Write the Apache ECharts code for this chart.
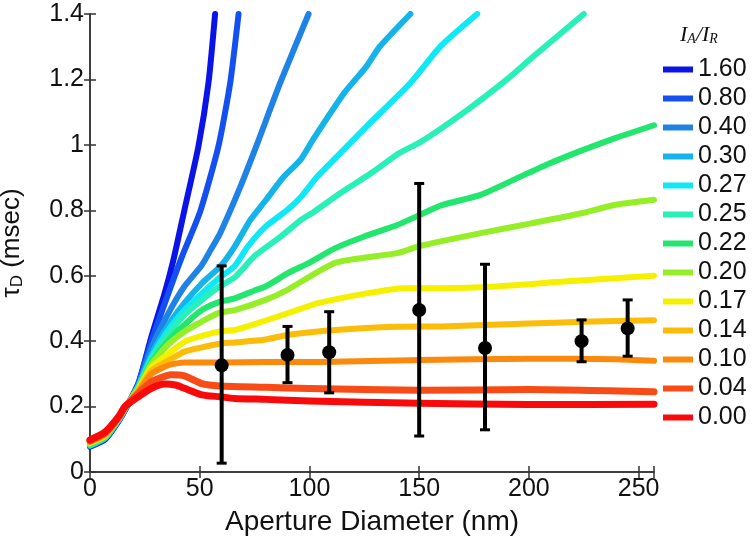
<!DOCTYPE html>
<html>
<head>
<meta charset="utf-8">
<script src="https://cdn.jsdelivr.net/npm/echarts@6/dist/echarts.min.js"></script>
<style>
html,body{margin:0;padding:0;background:#fff;}
#chart{width:753px;height:539px;}
</style>
</head>
<body>
<div id="chart"></div>
<script>
// ---- data ----
const ratioLabels = ['1.60','0.80','0.40','0.30','0.27','0.25','0.22','0.20','0.17','0.14','0.10','0.04','0.00'];
const xTicks = [0, 50, 100, 150, 200, 250];
const yTicks = [0, 0.2, 0.4, 0.6, 0.8, 1, 1.2, 1.4];

const s160 = [[0,0.077],[7,0.10],[13,0.155],[16,0.19],[22,0.27],[28,0.414],[34,0.546],[38,0.648],[43,0.80],[49.4,0.995],[54,1.19],[57,1.4]];
const s080 = [[0,0.079],[7,0.102],[13,0.157],[16,0.19],[22,0.27],[28,0.40],[35.7,0.546],[42,0.66],[50.2,0.796],[58.5,0.995],[63.9,1.19],[67.7,1.4]];
const s040 = [[0,0.08],[7,0.104],[13,0.158],[16,0.192],[22,0.265],[28,0.38],[35.7,0.485],[43,0.567],[51,0.633],[55,0.679],[59.3,0.73],[68.4,0.87],[76,1.0],[86.7,1.19],[99.6,1.4]];
const s030 = [[0,0.081],[7,0.105],[13,0.159],[16,0.193],[22,0.262],[28,0.36],[35.7,0.449],[43,0.516],[51,0.577],[59.3,0.628],[66,0.69],[73,0.77],[80,0.83],[88,0.90],[96,0.955],[102,1.02],[116,1.16],[126,1.24],[132,1.3],[146,1.4]];
const s027 = [[0,0.082],[7,0.106],[13,0.16],[16,0.194],[22,0.26],[28,0.35],[35.7,0.434],[43,0.495],[51,0.546],[59.3,0.595],[66,0.63],[72,0.69],[80,0.75],[89.7,0.80],[96,0.84],[103.6,0.903],[112.5,0.964],[126,1.056],[146,1.189],[159.7,1.301],[176.4,1.4]];
const s025 = [[0,0.083],[7,0.107],[13,0.161],[16,0.195],[22,0.258],[28,0.345],[36,0.424],[43,0.48],[51,0.526],[59,0.567],[66,0.595],[75,0.66],[87,0.72],[96,0.77],[102,0.795],[114,0.852],[128,0.913],[141,0.975],[151,1.01],[172,1.107],[190,1.2],[202,1.27],[225,1.4]];
const s022 = [[0,0.085],[7,0.109],[13,0.162],[16,0.196],[22,0.256],[28,0.335],[36,0.404],[43,0.45],[51,0.495],[59,0.52],[66,0.531],[75,0.555],[80,0.567],[90,0.607],[100,0.64],[112,0.685],[125,0.72],[140,0.755],[150,0.785],[160,0.815],[178,0.847],[193,0.893],[208,0.939],[223,0.98],[239,1.02],[257,1.06]];
const s020 = [[0,0.087],[7,0.11],[13,0.163],[16,0.197],[22,0.255],[28,0.33],[36,0.392],[43,0.429],[51,0.46],[59,0.487],[66,0.495],[80,0.526],[90,0.557],[112,0.64],[140,0.669],[150,0.69],[178,0.73],[201,0.76],[224,0.791],[239,0.816],[257,0.832]];
const s017 = [[0,0.089],[7,0.112],[13,0.164],[16,0.198],[22,0.252],[28,0.32],[36,0.363],[43,0.398],[51,0.416],[59,0.43],[66,0.434],[75,0.452],[90,0.485],[104,0.516],[126,0.546],[143,0.562],[160,0.562],[185,0.567],[216,0.582],[257,0.6]];
const s014 = [[0,0.091],[7,0.114],[13,0.165],[16,0.199],[22,0.25],[28,0.31],[36,0.342],[43,0.368],[51,0.381],[59,0.392],[66,0.396],[80,0.405],[90,0.419],[112,0.434],[140,0.444],[160,0.445],[200,0.454],[224,0.459],[257,0.464]];
const s010 = [[0,0.093],[7,0.117],[13,0.166],[16,0.2],[22,0.245],[28,0.30],[36,0.327],[43,0.335],[60,0.335],[80,0.336],[100,0.336],[150,0.342],[200,0.346],[240,0.345],[257,0.34]];
const s004 = [[0,0.095],[7,0.12],[13,0.167],[16,0.2],[22,0.24],[28,0.276],[37,0.297],[43,0.294],[51,0.27],[59,0.263],[80,0.259],[100,0.255],[150,0.25],[200,0.252],[257,0.245]];
const s000 = [[0,0.098],[7,0.123],[13,0.169],[16,0.2],[22,0.23],[28,0.256],[34,0.269],[39,0.266],[43,0.256],[51,0.236],[59,0.23],[66,0.225],[80,0.222],[100,0.217],[150,0.21],[200,0.206],[257,0.207]];

const errX    = [60, 90, 109, 150, 180, 224, 245];
const errMean = [0.326, 0.358, 0.366, 0.495, 0.379, 0.40, 0.439];
const errLow  = [0.027, 0.273, 0.242, 0.110, 0.129, 0.337, 0.354];
const errHigh = [0.630, 0.445, 0.490, 0.882, 0.635, 0.465, 0.526];

// ---- styling ----
const curveData = [s160, s080, s040, s030, s027, s025, s022, s020, s017, s014, s010, s004, s000];
const colors = ['#0a14e6','#1450f0','#1e82e6','#14b4ea','#10e8f5','#28f0b8','#22e66e','#96ee28','#f5f000','#fcbc0a','#fb8a0c','#f84c18','#f80a0a'];
const FONT = '"Liberation Sans", Arial, Helvetica, sans-serif';

const series = curveData.map((d, i) => ({
  name: ratioLabels[i],
  type: 'line',
  data: d,
  showSymbol: false,
  smooth: 0.2,
  clip: true,
  xAxisIndex: 0, yAxisIndex: 0,
  lineStyle: { width: i >= 11 ? 7 : 6, color: colors[i], cap: 'round', join: 'round' },
  itemStyle: { color: colors[i] },
  z: 2 + i
}));

const errData = errX.map((x, i) => [x, errMean[i], errLow[i], errHigh[i]]);
series.push({
  type: 'custom',
  name: 'err',
  xAxisIndex: 0, yAxisIndex: 0,
  data: errData,
  z: 30,
  renderItem: function (params, api) {
    const x = api.value(0);
    const pm = api.coord([x, api.value(1)]);
    const pl = api.coord([x, api.value(2)]);
    const ph = api.coord([x, api.value(3)]);
    const cw = 5;
    return {
      type: 'group',
      children: [
        { type: 'line', shape: { x1: pl[0], y1: pl[1], x2: ph[0], y2: ph[1] }, style: { stroke: '#000', lineWidth: 4 } },
        { type: 'line', shape: { x1: pl[0]-cw, y1: pl[1], x2: pl[0]+cw, y2: pl[1] }, style: { stroke: '#000', lineWidth: 3 } },
        { type: 'line', shape: { x1: ph[0]-cw, y1: ph[1], x2: ph[0]+cw, y2: ph[1] }, style: { stroke: '#000', lineWidth: 3 } },
        { type: 'circle', shape: { cx: pm[0], cy: pm[1], r: 7 }, style: { fill: '#000' } }
      ]
    };
  }
});

const axisLineStyle = { color: '#333', width: 1.5 };
const chart = echarts.init(document.getElementById('chart'), null, { renderer: 'canvas' });
chart.setOption({
  animation: false,
  backgroundColor: '#fff',
  textStyle: { fontFamily: FONT },
  grid: { left: 90, top: 14, right: 99, bottom: 67, containLabel: false, outerBoundsMode: 'none' },
  legend: {
    data: ratioLabels,
    orient: 'vertical',
    left: 663, top: 57,
    padding: 0,
    itemWidth: 30, itemHeight: 6,
    itemGap: 4,
    icon: 'rect',
    textStyle: { fontSize: 25, lineHeight: 25, color: '#111', fontFamily: FONT }
  },
  graphic: [{
    type: 'text',
    left: 680, top: 24,
    style: {
      text: '{i|I}{s|A}{i|/I}{s|R}',
      rich: {
        i: { fontFamily: '"Liberation Serif", "Times New Roman", serif', fontStyle: 'italic', fontSize: 22, fill: '#111', verticalAlign: 'bottom' },
        s: { fontFamily: '"Liberation Serif", "Times New Roman", serif', fontStyle: 'italic', fontSize: 14, fill: '#111', padding: [8, 0, 0, 0], verticalAlign: 'bottom' }
      }
    }
  }],
  xAxis: [{
    type: 'value', min: 0, max: 257, interval: 50,
    name: 'Aperture Diameter (nm)', nameLocation: 'middle', nameGap: 36,
    nameTextStyle: { fontSize: 28, color: '#111', fontFamily: FONT },
    axisLine: { show: true, lineStyle: axisLineStyle },
    axisTick: { show: true, inside: true, length: 6, lineStyle: axisLineStyle },
    axisLabel: { fontSize: 25, color: '#111', margin: 5, fontFamily: FONT,
      formatter: v => (xTicks.indexOf(v) >= 0 ? String(v) : '') },
    splitLine: { show: false }
  }, {
    type: 'value', min: 0, max: 257, interval: 50, position: 'top',
    axisLine: { show: true, lineStyle: axisLineStyle },
    axisTick: { show: true, inside: true, length: 6, lineStyle: axisLineStyle },
    axisLabel: { show: false }, splitLine: { show: false }
  }],
  yAxis: [{
    type: 'value', min: 0, max: 1.4, interval: 0.2,
    name: '{t|τ}{s|D}{t| (msec)}', nameLocation: 'middle', nameGap: 64, nameRotate: 90,
    nameTextStyle: { rich: {
      t: { fontSize: 26, color: '#111', fontFamily: FONT },
      s: { fontSize: 17, color: '#111', fontFamily: FONT, padding: [12, 0, 0, 0] }
    } },
    axisLine: { show: true, lineStyle: axisLineStyle },
    axisTick: { show: true, inside: true, length: 6, lineStyle: axisLineStyle },
    axisLabel: { fontSize: 25, color: '#111', margin: 6, fontFamily: FONT,
      formatter: v => { const m = yTicks.find(t => Math.abs(t - v) < 1e-6); return m === undefined ? '' : String(m); } },
    splitLine: { show: false }
  }, {
    type: 'value', min: 0, max: 1.4, interval: 0.2, position: 'right',
    axisLine: { show: true, lineStyle: axisLineStyle },
    axisTick: { show: true, inside: true, length: 6, lineStyle: axisLineStyle },
    axisLabel: { show: false }, splitLine: { show: false }
  }],
  series: series
});
</script>
</body>
</html>
